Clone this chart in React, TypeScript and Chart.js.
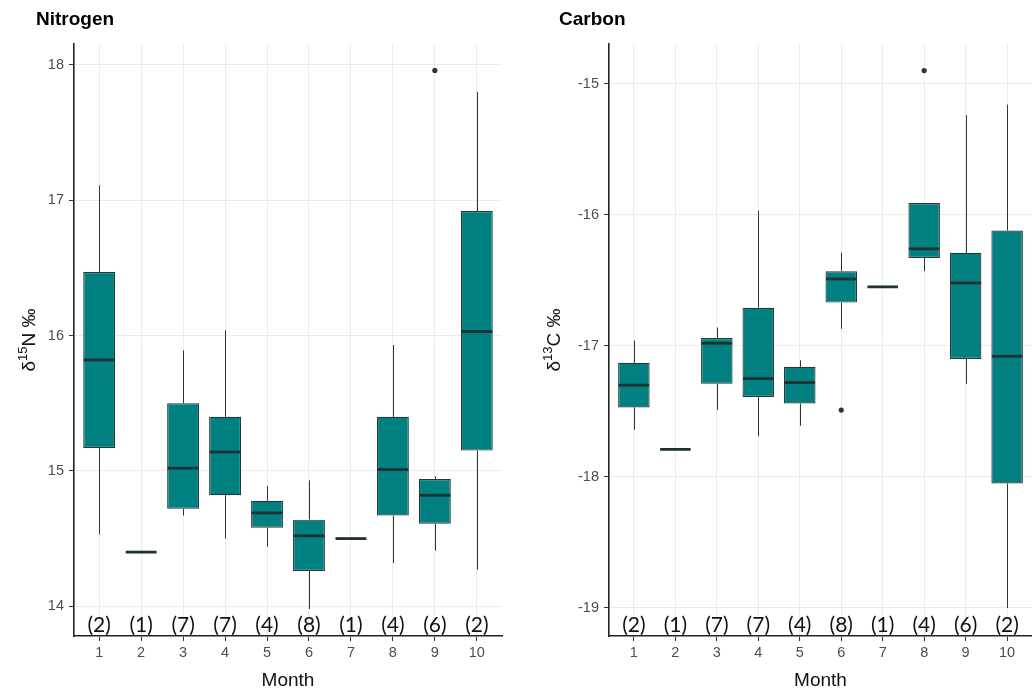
import React, { useEffect, useRef } from "react";
import { Chart, registerables } from "chart.js";

Chart.register(...registerables);

// Months on the x axis and sample size per month
const months = [1, 2, 3, 4, 5, 6, 7, 8, 9, 10];
const sampleSizes = [2, 1, 7, 7, 4, 8, 1, 4, 6, 2];

// δ15N box statistics per month
const nitrogenLow = [14.53, 14.4, 14.67, 14.5, 14.44, 13.98, 14.5, 14.32, 14.41, 14.27];
const nitrogenQ1 = [15.17, 14.4, 14.72, 14.82, 14.58, 14.26, 14.5, 14.67, 14.61, 15.15];
const nitrogenMedian = [15.82, 14.4, 15.02, 15.14, 14.69, 14.52, 14.5, 15.01, 14.82, 16.03];
const nitrogenQ3 = [16.47, 14.4, 15.5, 15.4, 14.78, 14.64, 14.5, 15.4, 14.94, 16.92];
const nitrogenHigh = [17.11, 14.4, 15.89, 16.04, 14.89, 14.93, 14.5, 15.93, 14.96, 17.8];
const nitrogenOutliers = [{ x: 9, y: 17.96 }];
const nitrogenTicks = [14, 15, 16, 17, 18];

// δ13C box statistics per month
const carbonLow = [-17.64, -17.79, -17.49, -17.69, -17.61, -16.87, -16.55, -16.43, -17.29, -19.0];
const carbonQ1 = [-17.47, -17.79, -17.29, -17.39, -17.44, -16.67, -16.55, -16.33, -17.1, -18.05];
const carbonMedian = [-17.3, -17.79, -16.98, -17.25, -17.28, -16.49, -16.55, -16.26, -16.52, -17.08];
const carbonQ3 = [-17.13, -17.79, -16.94, -16.71, -17.16, -16.43, -16.55, -15.91, -16.29, -16.12];
const carbonHigh = [-16.96, -17.79, -16.86, -15.97, -17.11, -16.29, -16.55, -15.91, -15.24, -15.16];
const carbonOutliers = [
  { x: 6, y: -17.49 },
  { x: 8, y: -14.9 },
];
const carbonTicks = [-19, -18, -17, -16, -15];

const BOX_RATIO = 0.76;
const FILL = "#008080";
const EDGE = "#283838";
const INK = "#333333";
const GRID = "#ebebeb";
const SANS = '"Liberation Sans", Arial, sans-serif';

type PanelSpec = {
  title: string;
  massNumber: string;
  element: string;
  low: number[];
  q1: number[];
  median: number[];
  q3: number[];
  high: number[];
  outliers: { x: number; y: number }[];
  ticks: number[];
  yMin: number;
  yMax: number;
  axisWidth: number;
  padRight: number;
  titleX: number;
  yTitleX: number;
};

const panels: PanelSpec[] = [
  {
    title: "Nitrogen",
    massNumber: "15",
    element: "N",
    low: nitrogenLow,
    q1: nitrogenQ1,
    median: nitrogenMedian,
    q3: nitrogenQ3,
    high: nitrogenHigh,
    outliers: nitrogenOutliers,
    ticks: nitrogenTicks,
    yMin: 13.78,
    yMax: 18.155,
    axisWidth: 74,
    padRight: 14,
    titleX: 36,
    yTitleX: 28,
  },
  {
    title: "Carbon",
    massNumber: "13",
    element: "C",
    low: carbonLow,
    q1: carbonQ1,
    median: carbonMedian,
    q3: carbonQ3,
    high: carbonHigh,
    outliers: carbonOutliers,
    ticks: carbonTicks,
    yMin: -19.214,
    yMax: -14.697,
    axisWidth: 93,
    padRight: 0,
    titleX: 43,
    yTitleX: 37,
  },
];

function boxPlugin(p: PanelSpec) {
  return {
    id: "boxWhiskers",
    beforeDatasetsDraw(chart: any) {
      const { ctx } = chart;
      const xs = chart.scales.x;
      const ys = chart.scales.y;
      ctx.save();
      ctx.strokeStyle = INK;
      ctx.lineWidth = 1;
      months.forEach((m, i) => {
        if (p.q1[i] === p.q3[i]) return;
        const x = Math.round(xs.getPixelForValue(m)) + 0.5;
        ctx.beginPath();
        ctx.moveTo(x, ys.getPixelForValue(p.high[i]));
        ctx.lineTo(x, ys.getPixelForValue(p.q3[i]));
        ctx.moveTo(x, ys.getPixelForValue(p.q1[i]));
        ctx.lineTo(x, ys.getPixelForValue(p.low[i]));
        ctx.stroke();
      });
      ctx.restore();
    },
    afterDatasetsDraw(chart: any) {
      const { ctx } = chart;
      const xs = chart.scales.x;
      const ys = chart.scales.y;
      const half = ((xs.getPixelForValue(2) - xs.getPixelForValue(1)) * BOX_RATIO) / 2;
      ctx.save();
      ctx.strokeStyle = "#1f3131";
      ctx.lineWidth = 2.8;
      months.forEach((m, i) => {
        const x = xs.getPixelForValue(m);
        const y = ys.getPixelForValue(p.median[i]);
        ctx.beginPath();
        ctx.moveTo(x - half + 0.5, y);
        ctx.lineTo(x + half - 0.5, y);
        ctx.stroke();
      });
      ctx.restore();
    },
    afterDraw(chart: any) {
      const { ctx, chartArea } = chart;
      const xs = chart.scales.x;
      ctx.save();
      // sample sizes along the bottom of the panel
      ctx.fillStyle = "#111111";
      ctx.font = '21px Lato, "Open Sans", sans-serif';
      ctx.textAlign = "center";
      ctx.textBaseline = "middle";
      months.forEach((m, i) => {
        ctx.fillText(`(${sampleSizes[i]})`, xs.getPixelForValue(m), chartArea.bottom - 11);
      });
      // panel title
      ctx.fillStyle = "#000000";
      ctx.font = `bold 19px ${SANS}`;
      ctx.textAlign = "left";
      ctx.textBaseline = "alphabetic";
      ctx.fillText(p.title, p.titleX, 25);
      // rotated y axis title: δ^mass Element ‰
      const big = `19px ${SANS}`;
      const small = `13px ${SANS}`;
      ctx.font = big;
      const wDelta = ctx.measureText("δ").width;
      const rest = `${p.element} ‰`;
      const wRest = ctx.measureText(rest).width;
      ctx.font = small;
      const wSup = ctx.measureText(p.massNumber).width;
      const total = wDelta + wSup + wRest;
      const cy = (chartArea.top + chartArea.bottom) / 2;
      ctx.translate(p.yTitleX, cy);
      ctx.rotate(-Math.PI / 2);
      ctx.fillStyle = "#111111";
      ctx.textBaseline = "alphabetic";
      let cx = -total / 2;
      const base = 7;
      ctx.font = big;
      ctx.fillText("δ", cx, base);
      cx += wDelta;
      ctx.font = small;
      ctx.fillText(p.massNumber, cx, base - 8);
      cx += wSup;
      ctx.font = big;
      ctx.fillText(rest, cx, base);
      ctx.restore();
    },
  };
}

function Panel({ spec }: { spec: PanelSpec }) {
  const ref = useRef<HTMLCanvasElement | null>(null);

  useEffect(() => {
    if (!ref.current) return;
    const boxes = months.map((m, i) => ({
      x: m,
      y: spec.q1[i] === spec.q3[i] ? null : [spec.q1[i], spec.q3[i]],
    }));
    const chart = new Chart(ref.current, {
      type: "bar",
      data: {
        datasets: [
          {
            type: "bar",
            data: boxes as any,
            backgroundColor: FILL,
            borderColor: EDGE,
            borderWidth: 1.2,
            borderSkipped: false,
            barPercentage: BOX_RATIO,
            categoryPercentage: 1,
          },
          {
            type: "scatter",
            data: spec.outliers,
            pointRadius: 2.6,
            pointBackgroundColor: INK,
            pointBorderWidth: 0,
          } as any,
        ],
      },
      options: {
        animation: false,
        responsive: false,
        layout: {
          autoPadding: false,
          padding: { top: 44, right: spec.padRight, left: 0, bottom: 0 },
        },
        plugins: {
          legend: { display: false },
          tooltip: { enabled: false },
          title: { display: false },
        },
        scales: {
          x: {
            type: "linear",
            min: 0.4,
            max: 10.6,
            offset: false,
            afterBuildTicks: (s: any) => {
              s.ticks = months.map((v) => ({ value: v }));
            },
            afterFit: (s: any) => {
              s.height = 61;
            },
            grid: {
              offset: false,
              color: GRID,
              lineWidth: 1,
              drawTicks: true,
              tickLength: 5,
              tickColor: INK,
            },
            border: { display: true, color: "#222222", width: 1.6 },
            ticks: {
              color: "#4d4d4d",
              font: { family: SANS, size: 14.5 },
              padding: 3,
              maxRotation: 0,
              autoSkip: false,
            },
            title: {
              display: true,
              text: "Month",
              color: "#111111",
              font: { family: SANS, size: 19 },
              padding: { top: 0, bottom: 5 },
            },
          },
          y: {
            type: "linear",
            min: spec.yMin,
            max: spec.yMax,
            afterBuildTicks: (s: any) => {
              s.ticks = spec.ticks.map((v) => ({ value: v }));
            },
            afterFit: (s: any) => {
              s.width = spec.axisWidth;
            },
            grid: {
              color: GRID,
              lineWidth: 1,
              drawTicks: true,
              tickLength: 5,
              tickColor: INK,
            },
            border: { display: true, color: "#222222", width: 1.6 },
            ticks: {
              color: "#4d4d4d",
              font: { family: SANS, size: 14.5 },
              padding: 5,
            },
          },
        },
      } as any,
      plugins: [boxPlugin(spec)],
    });
    return () => chart.destroy();
  }, [spec]);

  return <canvas ref={ref} width={516} height={697} style={{ display: "block" }} />;
}

export default function App() {
  return (
    <div
      style={{
        position: "fixed",
        left: 0,
        top: 0,
        width: 1032,
        height: 697,
        background: "#ffffff",
        display: "flex",
      }}
    >
      {panels.map((p) => (
        <div key={p.title} style={{ width: 516, height: 697 }}>
          <Panel spec={p} />
        </div>
      ))}
    </div>
  );
}
